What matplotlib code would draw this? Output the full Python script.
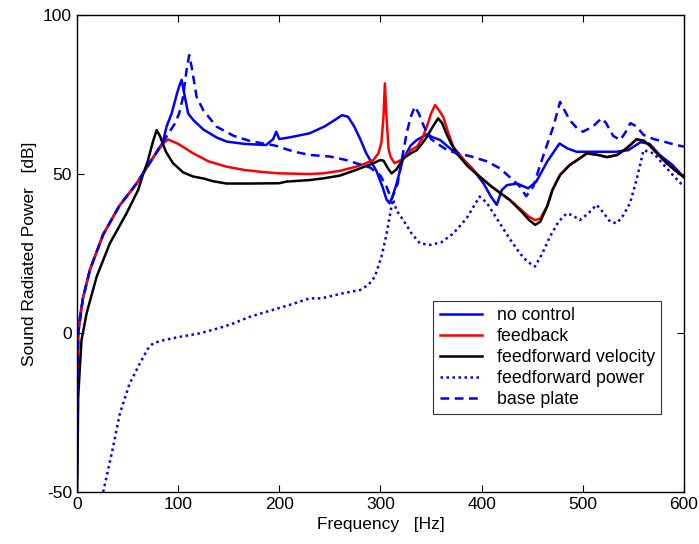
import matplotlib.pyplot as plt

plt.rcParams["font.family"] = ["Liberation Sans", "DejaVu Sans"]
plt.rcParams["axes.unicode_minus"] = False

# no control
nc_f = [0, 0.5, 1.3, 3, 6, 13, 26, 42, 59, 65, 75, 85, 88.6, 93.6, 98.5, 101, 103.5, 106.7, 110, 115, 125, 138,
        148, 165, 187, 194, 197, 200, 210, 230, 245, 255, 262, 268, 274, 280, 286, 296, 302, 306, 309, 312, 316,
        322, 330, 336, 346, 352, 359, 369, 379, 390, 402, 409, 415, 420, 425, 435, 446, 454, 465, 477, 485, 494,
        510, 533, 545, 557, 566, 576, 588, 600]
nc_db = [-50, -20, 0, 5, 11, 20, 31, 40, 47, 50, 55, 60, 64.9, 69, 74.8, 77.5, 79.6, 74.3, 69, 67, 64, 61.5,
         60.2, 59.5, 59.1, 61, 63.3, 61, 61.5, 62.8, 65, 67, 68.5, 68, 65, 61, 56.5, 51, 46, 42, 40.8, 43, 47,
         54.4, 59, 60.7, 62.5, 61.5, 60.7, 58, 55.4, 52, 47, 43, 40.3, 45, 46.5, 47, 45.5, 47.6, 54, 59.6, 58, 57,
         57, 57, 57.5, 60, 59.5, 56, 53, 49]

# feedback
fb_f = [0, 0.5, 1.3, 6, 13, 26, 42, 59, 65, 75, 85, 90, 100, 115, 130, 148, 165, 181, 200, 230, 243, 260, 276,
        285, 293, 298, 301, 303, 304.4, 306, 308, 310, 314, 318, 323, 330, 336, 341, 346, 350, 354, 358, 362,
        367, 372, 385, 398, 410, 428, 440, 447, 453, 458, 465, 470, 477.5, 487, 495, 504, 515, 524, 534, 543,
        553, 560, 566, 575, 583, 590, 600]
fb_db = [-50, -20, 0, 11, 20, 31, 40, 47, 50, 55, 59.5, 60.9, 59.5, 56.5, 54, 52.3, 51.3, 50.7, 50.2, 50, 50.2,
         51, 52.3, 53.3, 54.4, 56.5, 60, 68, 78.5, 68, 58, 55.4, 53.4, 54, 55, 57.5, 58.6, 61, 65, 69, 71.7, 70,
         68, 63, 58.6, 53.5, 49.2, 46, 41.8, 38.5, 36.5, 35.5, 36, 40, 45, 49.7, 52.8, 54.5, 56.5, 56, 55.3, 56,
         58, 60.9, 60.5, 59, 56, 53.4, 51.5, 49]

# feedforward velocity
fv_f = [0, 0.8, 1.3, 3, 4.6, 9.6, 19.5, 32.6, 49, 60.6, 65.5, 70, 75, 78.8, 82, 88, 95, 105, 115, 125, 135, 148,
        170, 200, 207, 230, 243, 260, 276, 290, 300, 303, 307, 311, 316, 322.6, 330, 336, 341, 346, 351, 357,
        361, 365, 370, 375.5, 386, 398, 410, 428, 440, 447, 453, 458, 465, 470, 477.5, 487, 495, 504, 515, 524,
        534, 543, 553, 560, 566, 575, 583, 590, 600]
fv_db = [-50, -35, -20, -10.6, -2.2, 6.2, 17.7, 28.2, 37.6, 45, 50, 54, 60, 63.8, 62, 57, 53.4, 50.5, 49.2, 48.6,
         47.7, 47, 47, 47.1, 47.6, 48.1, 48.6, 49.5, 51.3, 53, 54.4, 54.2, 52, 50.2, 51.5, 54.9, 56.5, 57.5, 59.5,
         61.7, 64.5, 67.5, 66, 62.8, 59.5, 56.5, 52.5, 49.2, 46, 41.8, 38, 35.5, 34, 35, 40, 45, 49.7, 52.8, 54.5,
         56.5, 56, 55.3, 56, 58, 60.9, 60.5, 59, 56, 53.4, 51.5, 49]

# feedforward power
fp_f = [26, 35, 42.5, 52, 62.3, 70, 75.4, 85, 100, 121.6, 140, 154.5, 170, 187.5, 210, 230, 241.8, 263, 279.7,
        288, 294.5, 301, 306, 311, 312.5, 316, 322.6, 330.8, 339, 349, 360, 372, 385, 398, 405, 418, 428, 438,
        445, 452.7, 460, 467.5, 476, 484, 490, 497, 505, 513.7, 520, 527, 533.5, 540, 546.6, 553, 560, 570, 583,
        591, 600]
fp_db = [-50, -37, -25.3, -16, -9.5, -5, -3.2, -2.3, -1.3, -0.1, 1.5, 3, 5, 6.7, 8.8, 10.9, 10.9, 12.5, 13.5,
         15.1, 17.7, 24, 31, 40, 42, 38.5, 35.5, 31.3, 28.2, 27.7, 28.5, 31.3, 36, 42.9, 41, 34.5, 29.5, 25,
         22.5, 20.9, 25, 30.3, 35, 37.6, 37, 35.5, 37.5, 40.3, 38, 35, 34.5, 37, 40.8, 48, 57.5, 56.5, 51.8,
         49, 46]

# base plate
bp_f = [0, 0.5, 1.3, 6, 13, 26, 42, 59, 65, 75, 85, 96.9, 101, 105, 108.4, 111, 113.4, 118.3, 125, 138, 155,
        170, 185, 195, 200, 205, 215, 230, 250, 266, 280, 290, 300, 306, 311, 317, 322, 326, 330, 334, 338, 343,
        350, 356, 366, 376, 390, 405, 418, 431, 438, 444, 451, 457, 464, 471, 477.5, 482, 487, 494, 500, 510,
        515, 519, 523, 530, 537, 542, 547, 553, 560, 570, 580, 590, 600]
bp_db = [-50, -20, 0, 11, 20, 31, 40, 47, 50, 55, 60, 65.9, 69, 74.3, 82.7, 87.4, 83.7, 74.3, 70, 64.9, 62,
         60.5, 59.5, 59, 58.6, 58, 57, 56, 55.5, 54.4, 53, 52, 49.5, 46, 42, 47, 56, 63, 68, 71.2, 69, 64.9,
         61, 59.6, 57.5, 56.5, 55.5, 54, 51.8, 48.1, 46, 43, 46, 52, 58.6, 65, 72.7, 70, 67, 64.5, 63.3, 64.9,
         66.5, 67.5, 66, 62, 60.7, 63, 66, 65, 62.3, 61, 60.2, 59.3, 58.6]

x_ticks = [0, 100, 200, 300, 400, 500, 600]
y_ticks = [-50, 0, 50, 100]

fig = plt.figure(figsize=(6.99, 5.44), dpi=100)
ax = fig.add_axes([0.110, 0.0956, 0.8685, 0.8768])

lw = 1.8
ax.plot(nc_f, nc_db, color="#0000ff", lw=lw, label="no control")
ax.plot(fb_f, fb_db, color="#ff0000", lw=lw, label="feedback")
ax.plot(fv_f, fv_db, color="black", lw=lw, label="feedforward velocity")
ax.plot(fp_f, fp_db, color="#0000ff", lw=lw, linestyle=(0, (1, 1.4)), label="feedforward power")
ax.plot(bp_f, bp_db, color="#0000ff", lw=lw, linestyle=(0, (3.5, 2.2)), label="base plate")

ax.set_xlim(0, 600)
ax.set_ylim(-50, 100)
ax.set_xticks(x_ticks)
ax.set_yticks(y_ticks)
ax.tick_params(direction="in", length=5, width=0.8, top=True, right=True, labelsize=12.5)
for s in ax.spines.values():
    s.set_linewidth(1.0)

ax.set_xlabel("Frequency   [Hz]", fontsize=12.5, labelpad=4)
ax.set_ylabel("Sound Radiated Power   [dB]", fontsize=12.5, labelpad=4)

leg = ax.legend(loc="upper right", bbox_to_anchor=(0.962, 0.400), fontsize=12.8, frameon=True,
                fancybox=False, handlelength=2.4, handletextpad=0.8, borderpad=0.35, labelspacing=0.22,
                borderaxespad=0)
leg.get_frame().set_edgecolor("black")
leg.get_frame().set_linewidth(0.8)

fig.savefig("out.png", dpi=100)
